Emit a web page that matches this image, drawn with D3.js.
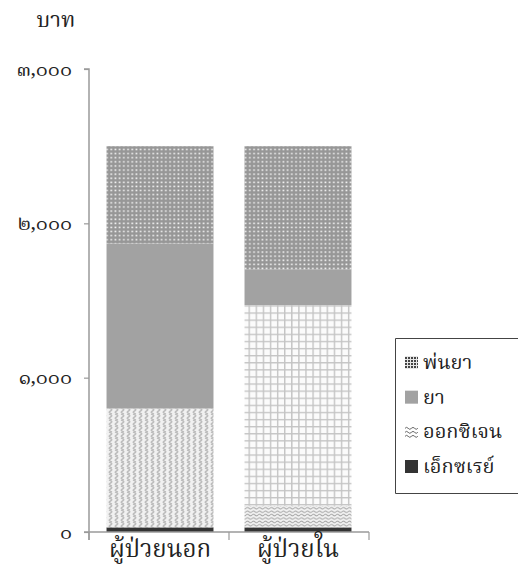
<!DOCTYPE html>
<html>
<head>
<meta charset="utf-8">
<script src="https://cdn.jsdelivr.net/npm/d3@7"></script>
<style>
  body { margin: 0; background: #fff; }
  svg text { font-family: "Noto Serif Thai", "Noto Sans Thai", "Loma", "Garuda", "DejaVu Serif", serif; fill: #222; }
</style>
</head>
<body>
<div id="chart"></div>
<script>
"use strict";

// data
var groups = ["ผู้ป่วยนอก", "ผู้ป่วยใน"];
var series = ["เอ็กซเรย์", "ออกซิเจน", "ค่าห้อง", "ยา", "พ่นยา"];
var xray = [30, 30];
var oxygen = [770, 140];
var room = [0, 1300];
var drug = [1070, 230];
var spray = [630, 800];
var yTicks = [0, 1000, 2000, 3000];
var yTickLabels = ["๐", "๑,๐๐๐", "๒,๐๐๐", "๓,๐๐๐"];
var legendKeys = ["พ่นยา", "ยา", "ออกซิเจน", "เอ็กซเรย์"];

var values = [xray, oxygen, room, drug, spray];
var table = groups.map((g, i) => {
    var row = { group: g };
    series.forEach((s, j) => { row[s] = values[j][i]; });
    return row;
});

var width = 518, height = 572;

var svg = d3.select("#chart")
    .append("svg")
    .attr("width", width)
    .attr("height", height);

// patterns
var defs = svg.append("defs");

var pDots = defs.append("pattern").attr("id", "p-dots")
    .attr("patternUnits", "userSpaceOnUse").attr("width", 4.2).attr("height", 4.1);
pDots.append("rect").attr("width", 4.2).attr("height", 4.1).attr("fill", "#979797");
pDots.append("rect").attr("x", 1.2).attr("y", 1.2).attr("width", 1.7).attr("height", 1.5).attr("fill", "#f4f4f4");

var pZig = defs.append("pattern").attr("id", "p-zig")
    .attr("patternUnits", "userSpaceOnUse").attr("width", 6).attr("height", 6);
pZig.append("rect").attr("width", 6).attr("height", 6).attr("fill", "#f1f1f1");
pZig.append("path").attr("d", "M1,0 Q5.5,1.5 2.5,3 Q-0.5,4.5 4,6")
    .attr("fill", "none").attr("stroke", "#bdbdbd").attr("stroke-width", 1.6);

var pGrid = defs.append("pattern").attr("id", "p-grid")
    .attr("patternUnits", "userSpaceOnUse").attr("width", 7.1).attr("height", 7.1);
pGrid.append("rect").attr("width", 7.1).attr("height", 7.1).attr("fill", "#fbfbfb");
pGrid.append("path").attr("d", "M0,0.7 H7.1 M0.7,0 V7.1")
    .attr("stroke", "#c4c4c4").attr("stroke-width", 1.4);

var pWave = defs.append("pattern").attr("id", "p-wave")
    .attr("patternUnits", "userSpaceOnUse").attr("width", 6).attr("height", 3.4);
pWave.append("rect").attr("width", 6).attr("height", 3.4).attr("fill", "#f2f2f2");
pWave.append("path").attr("d", "M0,1.7 Q1.5,0.4 3,1.7 T6,1.7")
    .attr("fill", "none").attr("stroke", "#a8a8a8").attr("stroke-width", 1);

var pDotsDark = defs.append("pattern").attr("id", "p-dots-dark")
    .attr("patternUnits", "userSpaceOnUse").attr("width", 3).attr("height", 3);
pDotsDark.append("rect").attr("width", 3).attr("height", 3).attr("fill", "#e6e6e6");
pDotsDark.append("rect").attr("width", 2).attr("height", 2).attr("fill", "#444");

var fills = {
    "เอ็กซเรย์": ["#333333", "#333333"],
    "ออกซิเจน": ["url(#p-zig)", "url(#p-wave)"],
    "ค่าห้อง": ["url(#p-grid)", "url(#p-grid)"],
    "ยา": ["#a2a2a2", "#a2a2a2"],
    "พ่นยา": ["url(#p-dots)", "url(#p-dots)"]
};

// scales
var x = d3.scaleBand()
    .domain(groups)
    .range([89, 369])
    .paddingInner(0.225)
    .paddingOuter(0.127);

var y = d3.scaleLinear()
    .domain([0, 3000])
    .range([532, 69]);

// bars
var stacked = d3.stack().keys(series)(table);

svg.append("g")
    .selectAll("g")
    .data(stacked)
    .join("g")
    .selectAll("rect")
    .data(d => d.map((v, i) => ({ key: d.key, i: i, v: v })))
    .join("rect")
    .attr("x", d => x(groups[d.i]))
    .attr("width", x.bandwidth())
    .attr("y", d => y(d.v[1]))
    .attr("height", d => y(d.v[0]) - y(d.v[1]))
    .attr("fill", d => fills[d.key][d.i]);

// axes
var axisColor = "#9a9a9a";

var yAxis = svg.append("g")
    .attr("transform", "translate(89,0)")
    .call(d3.axisLeft(y).tickValues(yTicks).tickSize(5).tickPadding(12)
        .tickFormat((d, i) => yTickLabels[i]));
yAxis.select(".domain").attr("stroke", axisColor).attr("stroke-width", 1.5)
    .attr("d", "M-5," + y(3000) + "H0V" + (y(0) + 8));
yAxis.selectAll(".tick line").attr("stroke", axisColor).attr("stroke-width", 1.2);
yAxis.selectAll(".tick text").style("font-size", "20px").attr("dy", "0.3em");

var bounds = [89, (x(groups[0]) + x.bandwidth() + x(groups[1])) / 2, 369];
var xAxis = svg.append("g");
xAxis.append("line")
    .attr("x1", 84).attr("x2", 369)
    .attr("y1", y(0)).attr("y2", y(0))
    .attr("stroke", axisColor).attr("stroke-width", 1.5);
xAxis.selectAll(".sep")
    .data(bounds)
    .join("line")
    .attr("class", "sep")
    .attr("x1", d => d).attr("x2", d => d)
    .attr("y1", y(0)).attr("y2", y(0) + 8)
    .attr("stroke", axisColor).attr("stroke-width", 1.2);
xAxis.selectAll(".cat")
    .data(groups)
    .join("text")
    .attr("class", "cat")
    .attr("x", d => x(d) + x.bandwidth() / 2)
    .attr("y", 557)
    .attr("text-anchor", "middle")
    .style("font-size", "24px")
    .text(d => d);

// y label
svg.append("text")
    .attr("x", 56)
    .attr("y", 27)
    .attr("text-anchor", "middle")
    .style("font-size", "22px")
    .text("บาท");

// legend
var legend = svg.append("g");
legend.append("path")
    .attr("d", "M518,338.5 H395.5 V493.5 H518")
    .attr("fill", "none")
    .attr("stroke", "#444")
    .attr("stroke-width", 1);

var legendIcon = {
    "พ่นยา": "url(#p-dots-dark)",
    "ยา": "#a2a2a2",
    "ออกซิเจน": "none",
    "เอ็กซเรย์": "#333333"
};
var legendY = d3.scalePoint().domain(legendKeys).range([363, 467]);

var item = legend.selectAll(".item")
    .data(legendKeys)
    .join("g")
    .attr("class", "item")
    .attr("transform", d => `translate(405,${legendY(d)})`);

item.append("rect")
    .attr("x", 0).attr("y", -7)
    .attr("width", 13).attr("height", 13)
    .attr("fill", d => legendIcon[d]);

item.filter(d => d === "ออกซิเจน")
    .append("path")
    .attr("d", "M0,-4 q1.6,-2 3.2,0 t3.2,0 t3.2,0 t3.2,0 M0,0 q1.6,-2 3.2,0 t3.2,0 t3.2,0 t3.2,0 M0,4 q1.6,-2 3.2,0 t3.2,0 t3.2,0 t3.2,0")
    .attr("fill", "none")
    .attr("stroke", "#555")
    .attr("stroke-width", 0.9);

item.append("text")
    .attr("x", 18)
    .attr("y", 6)
    .style("font-size", "20px")
    .text(d => d);
</script>
</body>
</html>
